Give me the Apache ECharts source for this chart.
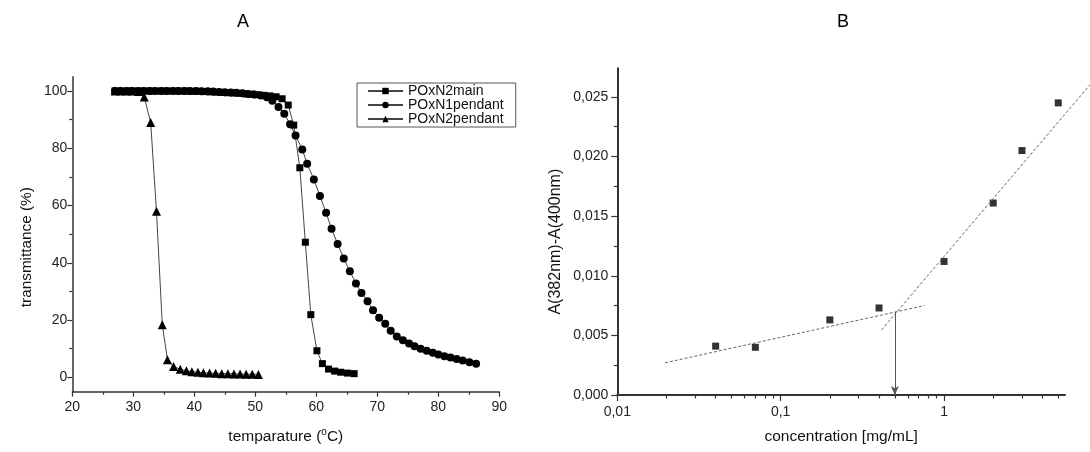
<!DOCTYPE html>
<html>
<head>
<meta charset="utf-8">
<script src="https://cdn.jsdelivr.net/npm/echarts@6/dist/echarts.min.js"></script>
<style>
html,body{margin:0;padding:0;background:#fff;}
#c{width:1090px;height:452px;}
</style>
</head>
<body>
<div id="c"></div>
<script>
// ---- Panel A data: [temperature (°C), transmittance (%)] ----
const POxN2main = [
  [27.0,100],[28.0,100],[29.0,100],[29.9,100],[30.9,100],[31.9,100],[32.9,100],[33.8,100],[34.8,100],[35.8,100],
  [36.8,100],[37.7,100],[38.7,100],[39.7,99.9],[40.7,99.9],[41.6,99.8],[42.6,99.7],[43.6,99.6],[44.6,99.5],[45.5,99.4],
  [46.5,99.3],[47.5,99.2],[48.5,99.0],[49.4,98.9],[50.4,98.7],[51.4,98.5],[52.4,98.3],[53.4,98.0],[54.4,97.3],[55.4,95.1],
  [56.3,88.1],[57.3,73.2],[58.2,47.2],[59.1,21.9],[60.1,9.3],[61.0,4.8],[62.0,2.9],[63.0,2.2],[64.0,1.8],[65.1,1.5],
  [66.2,1.3]
];
const POxN1pendant = [
  [27.0,100],[27.9,100],[28.9,100],[29.8,100],[30.8,100],[31.7,100],[32.7,100],[33.6,100],[34.6,100],[35.5,100],
  [36.5,100],[37.4,100],[38.4,100],[39.3,100],[40.3,100],[41.2,99.9],[42.2,99.9],[43.1,99.8],[44.1,99.7],[45.0,99.6],
  [46.0,99.5],[46.9,99.4],[47.9,99.2],[48.8,99.0],[49.8,98.8],[50.9,98.4],[51.9,97.8],[52.8,96.6],[53.8,94.4],[54.75,92.1],
  [55.7,88.4],[56.6,84.5],[57.7,79.6],[58.5,74.6],[59.6,69.1],[60.6,63.3],[61.6,57.5],[62.5,51.9],[63.5,46.6],[64.5,41.5],
  [65.5,37.1],[66.5,32.8],[67.4,29.5],[68.4,26.6],[69.3,23.4],[70.3,20.8],[71.3,18.7],[72.2,16.3],[73.2,14.3],[74.2,13.0],
  [75.2,11.8],[76.1,10.9],[77.1,10.0],[78.1,9.3],[79.1,8.6],[80.0,8.0],[81.0,7.4],[82.0,6.9],[83.0,6.4],[84.0,5.9],
  [85.1,5.3],[86.2,4.8]
];
const POxN2pendant = [
  [27.0,100],[27.9,100],[28.9,100],[29.8,100],[30.8,99.8],[31.8,97.9],[32.85,89.0],[33.8,58.0],[34.75,18.4],[35.6,6.2],
  [36.6,3.8],[37.7,2.8],[38.7,2.3],[39.6,2.0],[40.6,1.8],[41.5,1.6],[42.5,1.5],[43.5,1.4],[44.5,1.3],[45.5,1.3],
  [46.5,1.2],[47.5,1.2],[48.5,1.1],[49.5,1.1],[50.5,1.0]
];
const tempTicks = [20,30,40,50,60,70,80,90];
const transTicks = [0,20,40,60,80,100];
const transMinor = [10,30,50,70,90];

// ---- Panel B data ----
const concentration = [0.04, 0.07, 0.2, 0.4, 1, 2, 3, 5];
const absDiff = [0.0041, 0.0040, 0.0063, 0.0073, 0.0112, 0.0161, 0.0205, 0.0245];
const fitLow = [[0.0196, 0.0027], [0.76, 0.0075]];
const fitHigh = [[0.414, 0.00545], [7.8, 0.0260]];
const cmcArrow = [[0.5, 0.00698], [0.5, 0]];
const concTicks = [0.01, 0.1, 1];
const concMinor = [0.02,0.03,0.04,0.05,0.06,0.07,0.08,0.09,0.2,0.3,0.4,0.5,0.6,0.7,0.8,0.9,2,3,4,5];
const absTicks = [0, 0.005, 0.010, 0.015, 0.020, 0.025];
const absMinor = [0.0025, 0.0075, 0.0125, 0.0175, 0.0225];

const FONT = 'Liberation Sans';
const AX = '#333';
const labelStyle = {color: '#222', fontSize: 14, fontFamily: FONT};
const chart = echarts.init(document.getElementById('c'), null, {renderer: 'canvas'});
const comma = (v, d) => v.toFixed(d).replace('.', ',');
const tickLine = {color: AX, width: 1.2};

chart.setOption({
  animation: false,
  backgroundColor: '#fff',
  title: [
    {text: 'A', left: 238, top: 8, textAlign: 'center', textStyle: {fontSize: 18, fontWeight: 'normal', color: '#000', fontFamily: FONT}},
    {text: 'B', left: 838, top: 8, textAlign: 'center', textStyle: {fontSize: 18, fontWeight: 'normal', color: '#000', fontFamily: FONT}}
  ],
  legend: {
    left: 357, top: 83,
    orient: 'vertical',
    itemGap: 0,
    itemWidth: 35, itemHeight: 8,
    padding: [1, 12, 1, 10],
    borderColor: '#555', borderWidth: 1,
    textStyle: {fontSize: 14, color: '#111', fontFamily: FONT, lineHeight: 11},
    data: ['POxN2main', 'POxN1pendant', 'POxN2pendant']
  },
  grid: [
    {left: 72.3, top: 76.7, width: 427, height: 315, containLabel: false},
    {left: 617.3, top: 68.3, width: 447.7, height: 326.7, containLabel: false}
  ],
  xAxis: [
    {
      type: 'value', gridIndex: 0, position: 'bottom', min: 20, max: 90, interval: 10,
      name: 'temparature ({sup|o}C)', nameLocation: 'middle', nameGap: 36,
      nameTextStyle: {color: '#111', fontSize: 15.5, fontFamily: FONT, rich: {sup: {fontSize: 10, fontFamily: FONT, color: '#111', padding: [0, 0, 8, 0]}}},
      axisLine: {show: true, onZero: false, lineStyle: {color: AX, width: 1.5}},
      axisTick: {show: true, inside: false, length: 5, lineStyle: tickLine},
      minorTick: {show: true, splitNumber: 2, length: 3, lineStyle: tickLine},
      axisLabel: Object.assign({}, labelStyle, {margin: 8}),
      splitLine: {show: false}
    },
    {
      type: 'log', logBase: 10, gridIndex: 1, position: 'bottom', min: 0.01, max: 5.5,
      name: 'concentration [mg/mL]', nameLocation: 'middle', nameGap: 34,
      nameTextStyle: {color: '#111', fontSize: 15.5, fontFamily: FONT},
      axisLine: {show: true, onZero: false, lineStyle: {color: AX, width: 2}},
      axisTick: {show: true, inside: false, length: 6, customValues: concTicks, lineStyle: tickLine},
      axisLabel: Object.assign({}, labelStyle, {margin: 10, customValues: concTicks, formatter: v => (v >= 1 ? String(Math.round(v)) : comma(v, v < 0.05 ? 2 : 1))}),
      splitLine: {show: false}, minorTick: {show: false}
    },
    {
      type: 'log', logBase: 10, gridIndex: 1, position: 'bottom', offset: 0, min: 0.01, max: 5.5,
      axisLine: {show: false, onZero: false},
      axisTick: {show: true, inside: false, length: 3.5, customValues: concMinor, lineStyle: tickLine},
      axisLabel: {show: false},
      splitLine: {show: false}
    }
  ],
  yAxis: [
    {
      type: 'value', gridIndex: 0, position: 'left', min: -5, max: 105,
      name: 'transmittance (%)', nameLocation: 'middle', nameGap: 38,
      nameTextStyle: {color: '#111', fontSize: 15.3, fontFamily: FONT, padding: [0, 26, 0, 0]},
      axisLine: {show: true, onZero: false, lineStyle: {color: AX, width: 1.5}},
      axisTick: {show: true, inside: false, length: 5, customValues: transTicks, lineStyle: tickLine},
      axisLabel: Object.assign({}, labelStyle, {margin: 5, customValues: transTicks}),
      splitLine: {show: false}
    },
    {
      type: 'value', gridIndex: 0, position: 'left', offset: 0, min: -5, max: 105,
      axisLine: {show: false, onZero: false},
      axisTick: {show: true, inside: false, length: 3, customValues: transMinor, lineStyle: tickLine},
      axisLabel: {show: false},
      splitLine: {show: false}
    },
    {
      type: 'value', gridIndex: 1, position: 'left', min: 0, max: 0.0274,
      name: 'A(382nm)-A(400nm)', nameLocation: 'middle', nameGap: 54,
      nameTextStyle: {color: '#111', fontSize: 16, fontFamily: FONT, padding: [0, 20, 0, 0]},
      axisLine: {show: true, onZero: false, lineStyle: {color: AX, width: 2}},
      axisTick: {show: true, inside: false, length: 6, customValues: absTicks, lineStyle: tickLine},
      axisLabel: Object.assign({}, labelStyle, {margin: 9, customValues: absTicks, formatter: v => comma(v, 3)}),
      splitLine: {show: false}
    },
    {
      type: 'value', gridIndex: 1, position: 'left', offset: 0, min: 0, max: 0.0274,
      axisLine: {show: false, onZero: false},
      axisTick: {show: true, inside: false, length: 3.5, customValues: absMinor, lineStyle: tickLine},
      axisLabel: {show: false},
      splitLine: {show: false}
    }
  ],
  series: [
    {
      name: 'POxN2main', type: 'line', xAxisIndex: 0, yAxisIndex: 0,
      data: POxN2main, symbol: 'rect', symbolSize: 7, showAllSymbol: true,
      lineStyle: {color: '#444', width: 1}, itemStyle: {color: '#000'}
    },
    {
      name: 'POxN1pendant', type: 'line', xAxisIndex: 0, yAxisIndex: 0,
      data: POxN1pendant, symbol: 'circle', symbolSize: 8, showAllSymbol: true,
      lineStyle: {color: '#444', width: 1}, itemStyle: {color: '#000'}
    },
    {
      name: 'POxN2pendant', type: 'line', xAxisIndex: 0, yAxisIndex: 0,
      data: POxN2pendant, symbol: 'triangle', symbolSize: 9, showAllSymbol: true,
      lineStyle: {color: '#444', width: 1}, itemStyle: {color: '#000'}
    },
    {
      name: 'fitLow', type: 'line', xAxisIndex: 1, yAxisIndex: 2,
      data: fitLow, symbol: 'none', clip: false,
      lineStyle: {color: '#666', width: 1, type: [3, 2]}
    },
    {
      name: 'cmc', type: 'line', xAxisIndex: 1, yAxisIndex: 2,
      data: cmcArrow, symbol: 'none', lineStyle: {opacity: 0},
      markLine: {
        silent: true, symbol: ['none', 'arrow'], symbolSize: [6, 9],
        label: {show: false},
        lineStyle: {color: '#555', width: 1, type: 'solid'},
        data: [[{coord: cmcArrow[0]}, {coord: cmcArrow[1]}]]
      }
    },
    {
      name: 'data', type: 'scatter', xAxisIndex: 1, yAxisIndex: 2,
      data: concentration.map((c, i) => [c, absDiff[i]]),
      symbol: 'rect', symbolSize: 7, itemStyle: {color: '#000'}
    }
  ]
});

// The steep fit line runs past the end of the x axis in the original, so it is
// drawn unclipped, with its ends placed through the chart's own log/linear scales.
const p0 = chart.convertToPixel({xAxisIndex: 1, yAxisIndex: 2}, fitHigh[0]);
const p1 = chart.convertToPixel({xAxisIndex: 1, yAxisIndex: 2}, fitHigh[1]);
chart.setOption({
  graphic: [{
    type: 'line', silent: true, z: 5,
    shape: {x1: p0[0], y1: p0[1], x2: p1[0], y2: p1[1]},
    style: {stroke: '#666', lineWidth: 1, lineDash: [3, 2]}
  }]
});
</script>
</body>
</html>
